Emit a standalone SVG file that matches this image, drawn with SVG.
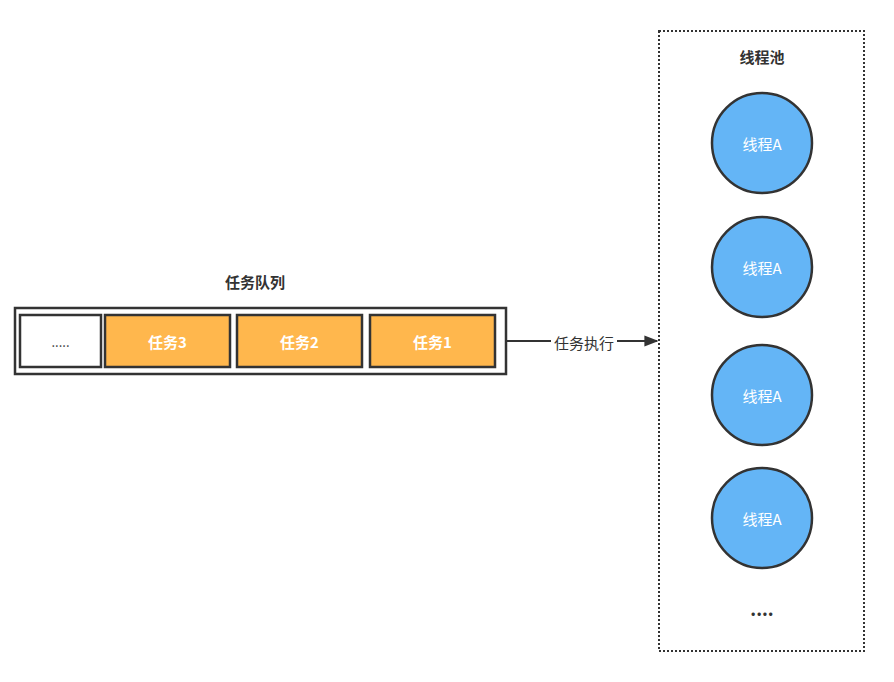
<svg xmlns="http://www.w3.org/2000/svg" width="894" height="682" viewBox="0 0 894 682">
<defs>
<style>
.t{font-family:"Noto Sans CJK SC","Liberation Sans",sans-serif;fill:#333;text-anchor:middle;dominant-baseline:central}
.task{fill:#FFB74D;stroke:#333;stroke-width:2.5}
.tw{font-family:"Noto Sans CJK SC","Liberation Sans",sans-serif;fill:#fff;font-weight:bold;font-size:15px;text-anchor:middle;dominant-baseline:central}
.th{fill:#64B5F6;stroke:#333;stroke-width:2.5}
.thl{font-family:"Noto Sans CJK SC","Liberation Sans",sans-serif;fill:#fff;font-size:15px;text-anchor:middle;dominant-baseline:central}
</style>
<marker id="arr" viewBox="0 0 10 10" refX="9" refY="5" markerWidth="7" markerHeight="7" orient="auto" markerUnits="strokeWidth">
<path d="M0,1 L10,5 L0,9 Z" fill="#333"/>
</marker>
</defs>
<rect width="894" height="682" fill="#fff"/>
<g id="queue">
<text class="t" x="255" y="281" font-size="15" font-weight="bold">任务队列</text>
<rect x="15" y="308" width="491" height="66" fill="#fff" stroke="#333" stroke-width="2.5"/>
</g>
<g id="more">
<rect x="20" y="315" width="81" height="52" fill="#fff" stroke="#333" stroke-width="2.5"/>
<text class="t" x="60.5" y="341" font-size="13">.....</text>
</g>
<g id="task3">
<rect class="task" x="105" y="315" width="125" height="52"/>
<text class="tw" x="167.5" y="341">任务3</text>
</g>
<g id="task2">
<rect class="task" x="237" y="315" width="125" height="52"/>
<text class="tw" x="299.5" y="341">任务2</text>
</g>
<g id="task1">
<rect class="task" x="370" y="315" width="125" height="52"/>
<text class="tw" x="432.5" y="341">任务1</text>
</g>
<g id="connectors">
<line x1="506" y1="341" x2="657" y2="341" stroke="#333" stroke-width="2" marker-end="url(#arr)"/>
<rect x="551" y="332" width="66" height="20" fill="#fff"/>
<text class="t" x="584" y="342" font-size="15">任务执行</text>
</g>
<g id="pool">
<rect x="659" y="31" width="205" height="620" fill="none" stroke="#333" stroke-width="2" stroke-dasharray="2 2"/>
<text class="t" x="762" y="56" font-size="15" font-weight="bold">线程池</text>
<text class="t" x="762" y="608" font-size="18" font-weight="bold">....</text>
</g>
<g id="thread1"><circle class="th" cx="762" cy="143" r="50"/><text class="thl" x="762" y="143">线程A</text></g>
<g id="thread2"><circle class="th" cx="762" cy="267" r="50"/><text class="thl" x="762" y="267">线程A</text></g>
<g id="thread3"><circle class="th" cx="762" cy="395" r="50"/><text class="thl" x="762" y="395">线程A</text></g>
<g id="thread4"><circle class="th" cx="762" cy="518" r="50"/><text class="thl" x="762" y="518">线程A</text></g>
</svg>
